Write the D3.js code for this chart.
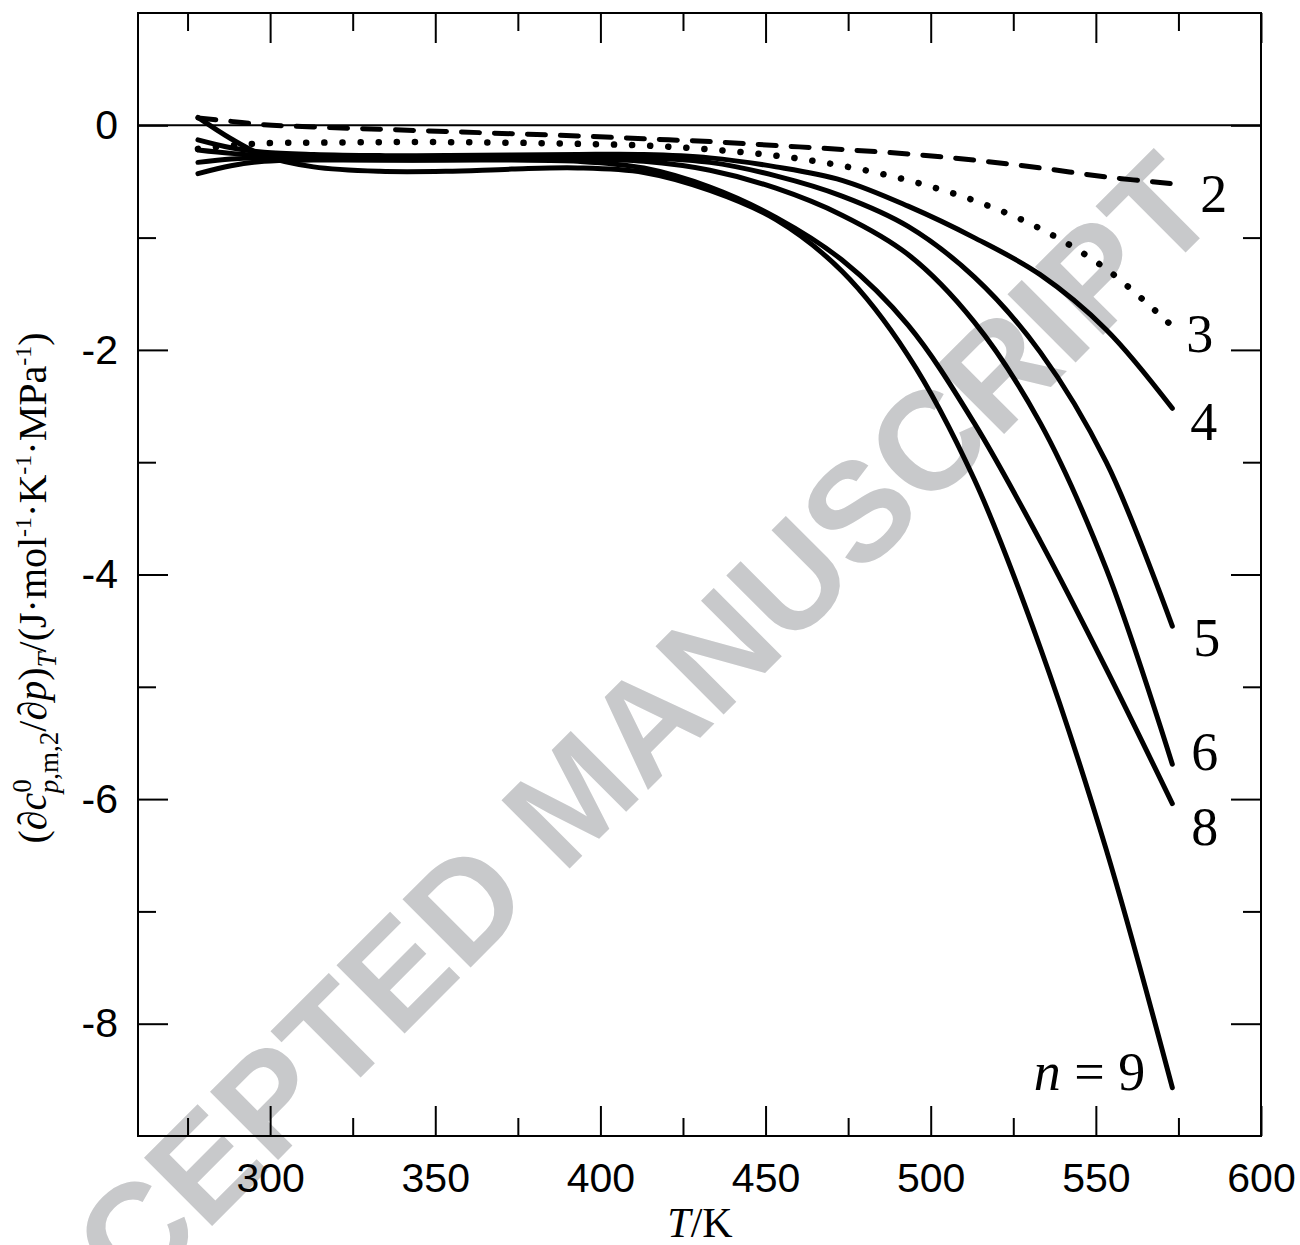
<!DOCTYPE html>
<html>
<head>
<meta charset="utf-8">
<script src="https://cdn.jsdelivr.net/npm/d3@7"></script>
<style>
  html, body { margin: 0; padding: 0; background: #fff; }
  svg { display: block; }
</style>
</head>
<body>
<svg id="chart" width="1300" height="1245"></svg>
<script>
// Temperatures (K) at which each series is tabulated
const temps = [278.15, 288.15, 298.15, 313.15, 333.15, 353.15, 373.15, 393.15, 413.15,
               433.15, 453.15, 473.15, 493.15, 513.15, 533.15, 553.15, 573.15];

// (dc0p,m,2/dp)_T in J·mol-1·K-1·MPa-1, one array per chain length n
const n2 = [0.065, 0.035, 0.005, -0.015, -0.035, -0.055, -0.075, -0.095, -0.12,
            -0.145, -0.18, -0.215, -0.255, -0.31, -0.38, -0.46, -0.52];
const n3 = [-0.21, -0.18, -0.16, -0.155, -0.15, -0.15, -0.155, -0.165, -0.18,
            -0.215, -0.27, -0.36, -0.49, -0.67, -0.92, -1.28, -1.79];
const n4 = [-0.13, -0.20, -0.24, -0.26, -0.27, -0.27, -0.265, -0.26, -0.26,
            -0.29, -0.37, -0.49, -0.72, -1.00, -1.33, -1.82, -2.52];
const n5 = [-0.22, -0.25, -0.27, -0.28, -0.29, -0.29, -0.285, -0.28, -0.29,
            -0.33, -0.45, -0.63, -0.90, -1.35, -2.02, -3.00, -4.46];
const n6 = [-0.33, -0.30, -0.29, -0.30, -0.31, -0.31, -0.30, -0.30, -0.32,
            -0.40, -0.56, -0.80, -1.15, -1.75, -2.65, -3.95, -5.69];
const n8 = [-0.43, -0.36, -0.32, -0.31, -0.31, -0.31, -0.31, -0.32, -0.38,
            -0.55, -0.82, -1.20, -1.78, -2.65, -3.70, -4.84, -6.04];
const n9 = [0.07, -0.12, -0.27, -0.37, -0.41, -0.41, -0.39, -0.38, -0.42,
            -0.58, -0.84, -1.30, -2.05, -3.15, -4.65, -6.45, -8.57];

const seriesNames = ["2", "3", "4", "5", "6", "8", "9"];
const seriesValues = [n2, n3, n4, n5, n6, n8, n9];
const seriesStyles = ["dashed", "dotted", "solid", "solid", "solid", "solid", "solid"];

// Axis ticks
const xMajor = [300, 350, 400, 450, 500, 550, 600];
const xMinor = [275, 325, 375, 425, 475, 525, 575];
const yMajor = [-8, -6, -4, -2, 0];
const yMinor = [-7, -5, -3, -1];

// ---- layout ----
const L = 138, R = 1261, Tp = 13, B = 1136;
const x = d3.scaleLinear().domain([260, 600]).range([L, R]);
const y = d3.scaleLinear().domain([-9, 1]).range([B, Tp]);

const svg = d3.select("#chart");
const sans = "'Liberation Sans', Arial, Helvetica, sans-serif";
const serif = "'Liberation Serif', 'Times New Roman', Times, serif";

// Watermark, drawn beneath everything else
svg.append("text")
  .attr("transform", "translate(1223,215) rotate(-45)")
  .attr("text-anchor", "end")
  .attr("font-family", sans)
  .attr("font-weight", "bold")
  .attr("font-size", 140)
  .attr("fill", "#c8c9cb")
  .text("ACCEPTED MANUSCRIPT");

// Frame
svg.append("rect")
  .attr("x", L).attr("y", Tp).attr("width", R - L).attr("height", B - Tp)
  .attr("fill", "none").attr("stroke", "#000").attr("stroke-width", 2);

// Zero reference line
svg.append("line")
  .attr("x1", L).attr("x2", R).attr("y1", y(0)).attr("y2", y(0))
  .attr("stroke", "#000").attr("stroke-width", 2);

function styleAxis(g) {
  g.select(".domain").remove();
  g.selectAll(".tick line").attr("stroke", "#000").attr("stroke-width", 2);
}

const MAJ = 30, MIN = 18;

// Bottom axis with labels
svg.append("g").attr("transform", `translate(0,${B})`)
  .call(d3.axisBottom(x).tickValues(xMajor).tickSize(-MAJ).tickPadding(27).tickFormat(d3.format("d")))
  .call(styleAxis)
  .call(g => g.selectAll("text").attr("font-family", sans).attr("font-size", 41).attr("fill", "#000"));
svg.append("g").attr("transform", `translate(0,${B})`)
  .call(d3.axisBottom(x).tickValues(xMinor).tickSize(-MIN).tickFormat(""))
  .call(styleAxis);

// Top axis (ticks only)
svg.append("g").attr("transform", `translate(0,${Tp})`)
  .call(d3.axisTop(x).tickValues(xMajor).tickSize(-MAJ).tickFormat(""))
  .call(styleAxis);
svg.append("g").attr("transform", `translate(0,${Tp})`)
  .call(d3.axisTop(x).tickValues(xMinor).tickSize(-MIN).tickFormat(""))
  .call(styleAxis);

// Left axis with labels
svg.append("g").attr("transform", `translate(${L},0)`)
  .call(d3.axisLeft(y).tickValues(yMajor).tickSize(-MAJ).tickPadding(20).tickFormat(d => String(d)))
  .call(styleAxis)
  .call(g => g.selectAll("text").attr("font-family", sans).attr("font-size", 41).attr("fill", "#000"));
svg.append("g").attr("transform", `translate(${L},0)`)
  .call(d3.axisLeft(y).tickValues(yMinor).tickSize(-MIN).tickFormat(""))
  .call(styleAxis);

// Right axis (ticks only)
svg.append("g").attr("transform", `translate(${R},0)`)
  .call(d3.axisRight(y).tickValues(yMajor).tickSize(-MAJ).tickFormat(""))
  .call(styleAxis);
svg.append("g").attr("transform", `translate(${R},0)`)
  .call(d3.axisRight(y).tickValues(yMinor).tickSize(-MIN).tickFormat(""))
  .call(styleAxis);

// Curves
const line = d3.line()
  .x((d, i) => x(temps[i]))
  .y(d => y(d))
  .curve(d3.curveCatmullRom.alpha(0.5));

const dashFor = { solid: null, dashed: "18,15", dotted: "0.1,18" };
const widthFor = { solid: 5, dashed: 5, dotted: 6.5 };

const curves = svg.append("g");
seriesValues.forEach((vals, k) => {
  const st = seriesStyles[k];
  curves.append("path")
    .datum(vals)
    .attr("d", line)
    .attr("fill", "none")
    .attr("stroke", "#000")
    .attr("stroke-width", widthFor[st])
    .attr("stroke-linecap", "round")
    .attr("stroke-linejoin", "round")
    .attr("stroke-dasharray", dashFor[st]);
});

// Curve labels, placed next to each curve's last point
const labelOffsets = [[28, 28], [14, 26], [18, 32], [21, 30], [19, 6], [19, 41], [-27, 2]];
const labels = svg.append("g").attr("font-family", serif).attr("font-size", 54).attr("fill", "#000");
seriesValues.forEach((vals, k) => {
  const last = vals.length - 1;
  const px = x(temps[last]) + labelOffsets[k][0];
  const py = y(vals[last]) + labelOffsets[k][1];
  const t = labels.append("text").attr("x", px).attr("y", py);
  if (seriesNames[k] === "9") {
    t.attr("text-anchor", "end");
    t.append("tspan").attr("font-style", "italic").text("n");
    t.append("tspan").text(" = 9");
  } else {
    t.text(seriesNames[k]);
  }
});

// X axis title
const xt = svg.append("text")
  .attr("x", 700).attr("y", 1237)
  .attr("text-anchor", "middle")
  .attr("font-family", serif).attr("font-size", 42).attr("fill", "#000");
xt.append("tspan").attr("font-style", "italic").text("T");
xt.append("tspan").text("/K");

// Y axis title
const yt = svg.append("text")
  .attr("transform", "translate(46,588) rotate(-90)")
  .attr("text-anchor", "middle")
  .attr("font-family", serif).attr("font-size", 40).attr("fill", "#000");
yt.append("tspan").text("(\u2202");
yt.append("tspan").attr("font-style", "italic").text("c");
yt.append("tspan").attr("font-size", 27).attr("dy", -15).text("0");
yt.append("tspan").attr("font-size", 27).attr("dx", -14).attr("dy", 27).attr("font-style", "italic").text("p");
yt.append("tspan").attr("font-size", 27).text(",m,2");
yt.append("tspan").attr("dy", -12).text("/\u2202");
yt.append("tspan").attr("font-style", "italic").text("p");
yt.append("tspan").text(")");
yt.append("tspan").attr("font-size", 27).attr("dy", 10).attr("font-style", "italic").text("T");
yt.append("tspan").attr("dy", -10).text("/(J\u00b7mol");
yt.append("tspan").attr("font-size", 24).attr("dy", -15).text("-1");
yt.append("tspan").attr("dy", 15).text("\u00b7K");
yt.append("tspan").attr("font-size", 24).attr("dy", -15).text("-1");
yt.append("tspan").attr("dy", 15).text("\u00b7MPa");
yt.append("tspan").attr("font-size", 24).attr("dy", -15).text("-1");
yt.append("tspan").attr("dy", 15).text(")");
</script>
</body>
</html>
